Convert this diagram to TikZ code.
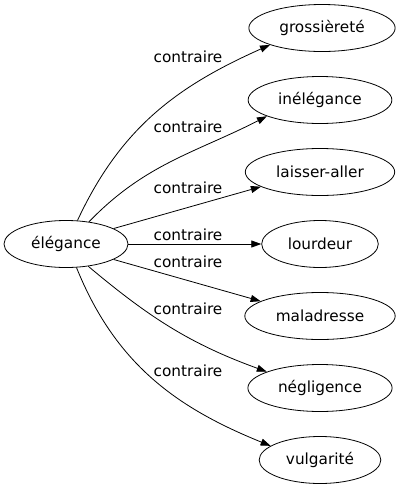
\documentclass[tikz,border=0pt]{standalone}
\usepackage{fontspec}
\setmainfont{DejaVu Sans}
\usetikzlibrary{shapes.geometric,arrows.meta}
\tikzset{mot/.style={draw, ellipse, inner xsep=9pt, inner ysep=0pt,
    minimum height=47pt, line width=0.8pt}}
\begin{document}
\begin{tikzpicture}[x=1pt,y=1pt,font=\fontsize{15.3}{18}\selectfont]
  \useasboundingbox (0,0) rectangle (401,-491);
  \begin{scope}
    \node[mot] (eleg) at (66,-244) {élégance};
    \node[mot] (gros) at (322,-28) {grossièreté}; \node[mot] (inel)
    at (320,-100) {inélégance}; \node[mot] (laiss) at (320,-172)
    {laisser-aller}; \node[mot] (lour) at (320,-244) {lourdeur};
    \node[mot] (mal) at (320,-316) {maladresse}; \node[mot] (negl)
    at (320,-388) {négligence}; \node[mot] (vulg) at (320,-460)
    {vulgarité};
  \end{scope}
  \begin{scope}
    \node (c1) at (188,-57) {contraire}; \node (c2) at (188,-127)
    {contraire}; \node (c3) at (188,-188) {contraire}; \node (c4) at
    (188,-235) {contraire}; \node (c5) at (188,-262) {contraire};
    \node (c6) at (188,-309) {contraire}; \node (c7) at (188,-371)
    {contraire};
  \end{scope}
  \begin{scope}[->,>={Triangle[length=10pt,width=7pt]}, line width=0.8pt]
    \draw (eleg.64) to [out=65, in=-156] (gros.-162);
    \draw (eleg.44) to [out=46, in=-153] (inel.-163);
    \draw (eleg.18) -- (laiss.-166);
    \draw (eleg.east) -- (lour.west);
    \draw (eleg.-18) -- (mal.166);
    \draw (eleg.-45) to [out=-40, in=160] (negl.163);
    \draw (eleg.-66) to [out=-68, in=158] (vulg.164);
  \end{scope}
\end{tikzpicture}
\end{document}
